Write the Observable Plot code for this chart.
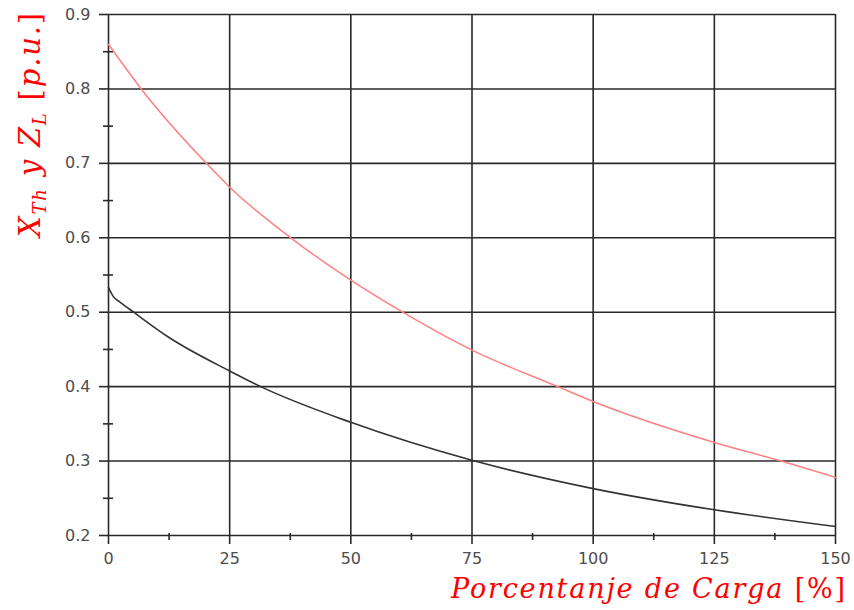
<!DOCTYPE html>
<html>
<head>
<meta charset="utf-8">
<script src="https://cdn.jsdelivr.net/npm/d3@7"></script>
<script src="https://cdn.jsdelivr.net/npm/@observablehq/plot@0.6"></script>
<style>
  html, body { margin: 0; padding: 0; background: #fff; }
  #chart { width: 854px; height: 610px; }
</style>
</head>
<body>
<div id="chart"></div>
<script>
// Tick values
const xTicks = [0, 25, 50, 75, 100, 125, 150];
const xMinor = [12.5, 37.5, 62.5, 87.5, 112.5, 137.5];
const yTicks = [0.2, 0.3, 0.4, 0.5, 0.6, 0.7, 0.8, 0.9];
const yMinor = [0.25, 0.35, 0.45, 0.55, 0.65, 0.75, 0.85];

// Z_L (red) series: load % and value in p.u.
const zlLoad = [0, 6.75, 20.2, 25, 37.6, 50, 60.7, 75, 92.7, 100, 125, 138.8, 150];
const zlValue = [0.86, 0.80, 0.70, 0.668, 0.60, 0.543, 0.50, 0.449, 0.40, 0.380, 0.325, 0.30, 0.278];

// X_Th (black) series
const xthLoad = [0, 1, 2.5, 5.2, 12.5, 25, 31.4, 50, 75, 100, 125, 150];
const xthValue = [0.533, 0.521, 0.513, 0.50, 0.466, 0.421, 0.40, 0.352, 0.301, 0.263, 0.2345, 0.212];

const zl = zlLoad.map((x, i) => ({x, y: zlValue[i]}));
const xth = xthLoad.map((x, i) => ({x, y: xthValue[i]}));

const gridColor = "#2a2a2a";

const chart = Plot.plot({
  width: 854,
  height: 610,
  marginLeft: 108,
  marginRight: 19,
  marginTop: 14,
  marginBottom: 75,
  x: {domain: [0, 150]},
  y: {domain: [0.2, 0.9]},
  style: {fontFamily: "DejaVu Sans", fontSize: "16px", color: "#4d4d4d", background: "#fff"},
  marks: [
    Plot.gridX({ticks: xTicks, stroke: gridColor, strokeOpacity: 1, strokeWidth: 1.6}),
    Plot.gridY({ticks: yTicks, stroke: gridColor, strokeOpacity: 1, strokeWidth: 1.6}),
    Plot.axisX({ticks: xTicks, tickSize: 9, tickPadding: 8, label: null, stroke: gridColor, strokeWidth: 1.6, fill: "#4d4d4d"}),
    Plot.axisY({ticks: yTicks, tickSize: 9, tickPadding: 9, tickFormat: d3.format(".1f"), label: null, stroke: gridColor, strokeWidth: 1.6, fill: "#4d4d4d"}),
    Plot.axisX({ticks: xMinor, tickSize: 7, dy: -2, tickFormat: () => "", label: null, stroke: gridColor, strokeWidth: 1.6}),
    Plot.axisY({ticks: yMinor, tickSize: 10, dx: 5, tickFormat: () => "", label: null, stroke: gridColor, strokeWidth: 1.6}),
    Plot.line(xth, {x: "x", y: "y", stroke: "#333", strokeWidth: 1.6, curve: "monotone-x"}),
    Plot.line(zl, {x: "x", y: "y", stroke: "#ff8080", strokeWidth: 1.5, curve: "monotone-x"})
  ]
});

const svg = d3.select(chart);

// X axis title
const xt = svg.append("text")
  .attr("x", 451)
  .attr("y", 598)
  .attr("text-anchor", "start")
  .attr("fill", "#ff0000")
  .attr("font-family", "DejaVu Serif")
  .attr("font-size", 27)
  .attr("textLength", 394)
  .attr("lengthAdjust", "spacing");
xt.append("tspan").attr("font-style", "italic").text("Porcentanje de Carga ");
xt.append("tspan").attr("font-style", "normal").text("[%]");

// Y axis title
const yt = svg.append("text")
  .attr("transform", "translate(40,237) rotate(-90)")
  .attr("text-anchor", "start")
  .attr("fill", "#ff0000")
  .attr("font-family", "DejaVu Serif")
  .attr("font-size", 29)
  .attr("textLength", 224)
  .attr("lengthAdjust", "spacing");
yt.append("tspan").attr("font-style", "italic").text("X");
yt.append("tspan").attr("font-style", "italic").attr("font-size", 18).attr("dy", 6).text("Th");
yt.append("tspan").attr("font-style", "italic").attr("dy", -6).text(" y Z");
yt.append("tspan").attr("font-style", "italic").attr("font-size", 18).attr("dy", 6).text("L");
yt.append("tspan").attr("font-style", "normal").attr("dy", -6).text(" [");
yt.append("tspan").attr("font-style", "italic").text("p.u.");
yt.append("tspan").attr("font-style", "normal").text("]");

document.getElementById("chart").appendChild(chart);
</script>
</body>
</html>
